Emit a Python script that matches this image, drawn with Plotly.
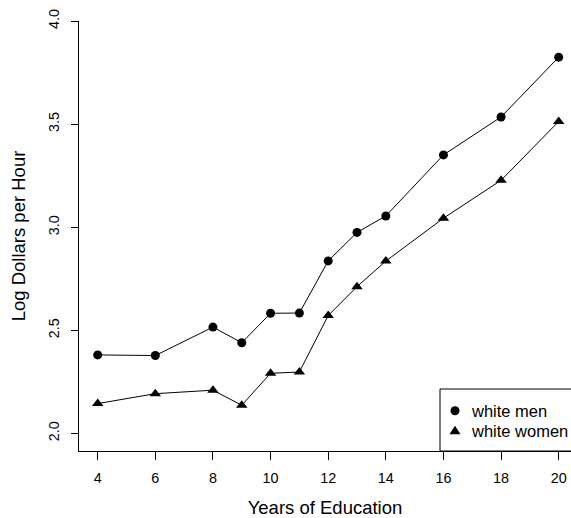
import plotly.graph_objects as go

years = [4, 6, 8, 9, 10, 11, 12, 13, 14, 16, 18, 20]
men = [2.381, 2.378, 2.516, 2.440, 2.583, 2.584, 2.837, 2.975, 3.055, 3.351, 3.535, 3.825]
women = [2.145, 2.193, 2.210, 2.137, 2.292, 2.298, 2.572, 2.712, 2.836, 3.044, 3.228, 3.513]
x_ticks = [4, 6, 8, 10, 12, 14, 16, 18, 20]
y_ticks = [2.0, 2.5, 3.0, 3.5, 4.0]
y_ticklabels = ["2.0", "2.5", "3.0", "3.5", "4.0"]
series_names = ["white men", "white women"]

FONT = "Liberation Sans, Arial, Helvetica, sans-serif"

# plot area in pixels
L, R, T, B = 79, 571, 21, 451
W, H = R - L, B - T


def px(xp):
    return (xp - L) / W


def py(yp):
    return (B - yp) / H


fig = go.Figure()
fig.add_trace(go.Scatter(
    x=years, y=men, mode="lines+markers", name=series_names[0],
    line=dict(color="black", width=1),
    marker=dict(symbol="circle", size=9, color="black"),
    showlegend=False,
))
fig.add_trace(go.Scatter(
    x=years, y=women, mode="lines+markers", name=series_names[1],
    line=dict(color="black", width=1),
    marker=dict(symbol="triangle-up", size=10, color="black"),
    showlegend=False,
))

# legend frame (extends past right edge as in reference)
shapes = [dict(type="rect", xref="paper", yref="paper",
               x0=px(440), x1=1.1, y0=0, y1=py(389),
               line=dict(color="black", width=1), fillcolor="rgba(0,0,0,0)")]
# legend symbols
shapes.append(dict(type="circle", xref="paper", yref="paper",
                   xsizemode="pixel", ysizemode="pixel",
                   xanchor=px(455), yanchor=py(410.7),
                   x0=-4.5, x1=4.5, y0=-4.5, y1=4.5,
                   fillcolor="black", line=dict(width=0)))
shapes.append(dict(type="path", xref="paper", yref="paper",
                   xsizemode="pixel", ysizemode="pixel",
                   xanchor=px(455), yanchor=py(430.7),
                   path="M -5.5,-3.5 L 5.5,-3.5 L 0,5 Z",
                   fillcolor="black", line=dict(width=0)))

annotations = [
    dict(text=series_names[0], xref="paper", yref="paper", x=px(469), y=py(410.7),
         xanchor="left", yanchor="middle", showarrow=False, font=dict(size=16.5)),
    dict(text=series_names[1], xref="paper", yref="paper", x=px(469), y=py(430.7),
         xanchor="left", yanchor="middle", showarrow=False, font=dict(size=16.5)),
]

fig.update_layout(
    width=571, height=518, autosize=False,
    margin=dict(l=L, r=571 - R, t=T, b=518 - B),
    paper_bgcolor="white", plot_bgcolor="white",
    font=dict(family=FONT, color="black", size=14.4),
    showlegend=False,
    shapes=shapes,
    annotations=annotations,
    xaxis=dict(range=[3.351, 20.427], tickvals=x_ticks, ticks="outside", ticklen=8,
               tickcolor="black", showline=True, linecolor="black", linewidth=1,
               showgrid=False, zeroline=False, ticklabelstandoff=6, automargin=False,
               tickfont=dict(size=14.4),
               title=dict(text="Years of Education", font=dict(size=18.5), standoff=20)),
    yaxis=dict(range=[1.915, 4.0005], tickvals=y_ticks, ticktext=y_ticklabels, ticks="outside",
               ticklen=7, tickcolor="black", showline=True, linecolor="black", linewidth=1,
               showgrid=False, zeroline=False, tickangle=-90, ticklabelstandoff=6,
               automargin=False, tickfont=dict(size=14.4),
               title=dict(text="Log Dollars per Hour", font=dict(size=18.5), standoff=15)),
)

fig.write_html("out.html", config={"displayModeBar": False},
               post_script="document.body.style.margin='0';document.body.style.overflow='hidden';")
